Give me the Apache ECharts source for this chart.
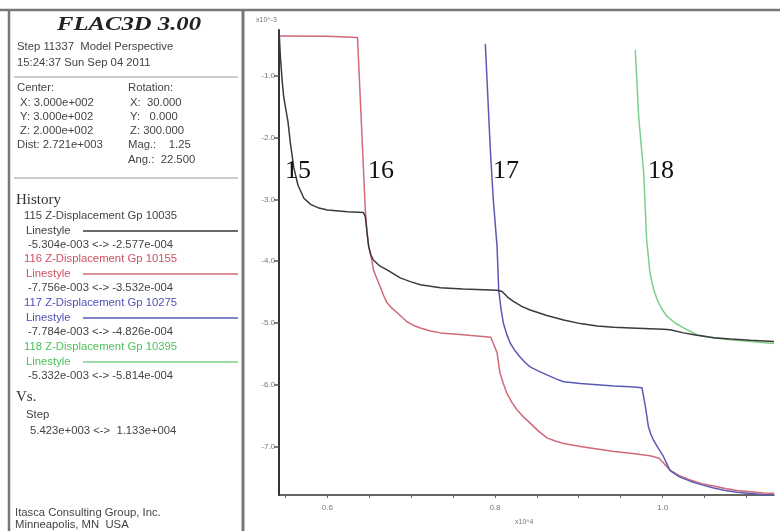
<!DOCTYPE html>
<html><head><meta charset="utf-8">
<script src="https://cdn.jsdelivr.net/npm/echarts@6/dist/echarts.min.js"></script>
<style>html,body{margin:0;padding:0;background:#fff}#c{width:780px;height:531px}</style>
</head><body><div id="c"></div>
<script>
// x in units of 10^4 steps, y in units of 10^-3
const series15 = [[0.5423,-0.2577],[0.5440,-0.70],[0.5462,-1.10],[0.548,-1.35],[0.553,-1.74],[0.556,-2.10],[0.560,-2.49],[0.565,-2.77],[0.572,-2.98],[0.580,-3.08],[0.590,-3.14],[0.600,-3.17],[0.624,-3.20],[0.643,-3.21],[0.6453,-3.28],[0.6474,-3.54],[0.6493,-3.76],[0.652,-3.90],[0.6549,-3.98],[0.662,-4.07],[0.6712,-4.14],[0.687,-4.27],[0.699,-4.33],[0.711,-4.38],[0.735,-4.43],[0.762,-4.45],[0.8025,-4.47],[0.8085,-4.49],[0.815,-4.58],[0.822,-4.65],[0.832,-4.73],[0.842,-4.79],[0.862,-4.88],[0.882,-4.95],[0.902,-5.01],[0.922,-5.05],[0.942,-5.07],[0.962,-5.08],[1.001,-5.10],[1.009,-5.11],[1.025,-5.16],[1.041,-5.20],[1.061,-5.24],[1.081,-5.26],[1.105,-5.28],[1.133,-5.30]];
const series16 = [[0.5423,-0.3532],[0.600,-0.36],[0.636,-0.38],[0.6453,-3.17],[0.6474,-3.54],[0.6493,-3.76],[0.653,-3.98],[0.655,-4.14],[0.659,-4.28],[0.663,-4.41],[0.667,-4.55],[0.671,-4.67],[0.677,-4.76],[0.683,-4.83],[0.695,-4.98],[0.703,-5.04],[0.711,-5.08],[0.723,-5.13],[0.735,-5.16],[0.762,-5.19],[0.795,-5.23],[0.7965,-5.24],[0.8025,-5.48],[0.806,-5.81],[0.810,-5.98],[0.814,-6.13],[0.820,-6.28],[0.826,-6.40],[0.834,-6.52],[0.842,-6.62],[0.852,-6.75],[0.862,-6.86],[0.872,-6.91],[0.882,-6.95],[0.902,-7.00],[0.922,-7.04],[0.942,-7.08],[0.962,-7.11],[0.985,-7.15],[0.996,-7.19],[1.002,-7.28],[1.009,-7.38],[1.020,-7.47],[1.033,-7.54],[1.047,-7.60],[1.061,-7.64],[1.075,-7.68],[1.089,-7.71],[1.105,-7.73],[1.121,-7.75],[1.133,-7.756]];
const series17 = [[0.7885,-0.4826],[0.7945,-2.20],[0.798,-3.00],[0.8025,-3.76],[0.8045,-4.46],[0.807,-4.75],[0.810,-5.00],[0.814,-5.18],[0.818,-5.32],[0.824,-5.45],[0.830,-5.55],[0.836,-5.64],[0.842,-5.71],[0.852,-5.78],[0.862,-5.84],[0.872,-5.90],[0.882,-5.95],[0.902,-5.98],[0.922,-6.00],[0.942,-6.02],[0.962,-6.03],[0.9755,-6.05],[0.9795,-6.35],[0.983,-6.67],[0.986,-6.80],[0.989,-6.89],[0.995,-7.03],[1.001,-7.16],[1.009,-7.39],[1.020,-7.49],[1.033,-7.56],[1.047,-7.62],[1.061,-7.67],[1.075,-7.71],[1.089,-7.74],[1.105,-7.76],[1.121,-7.78],[1.133,-7.784]];
const series18 = [[0.9675,-0.5814],[0.9715,-1.66],[0.9775,-2.57],[0.981,-3.65],[0.985,-4.19],[0.989,-4.44],[0.9935,-4.62],[0.999,-4.77],[1.005,-4.89],[1.015,-5.00],[1.025,-5.08],[1.041,-5.19],[1.061,-5.24],[1.081,-5.27],[1.105,-5.30],[1.133,-5.332]];
const seriesNames = ['115 Z-Displacement Gp 10035','116 Z-Displacement Gp 10155','117 Z-Displacement Gp 10275','118 Z-Displacement Gp 10395'];
const seriesRanges = ['-5.304e-003 <-> -2.577e-004','-7.756e-003 <-> -3.532e-004','-7.784e-003 <-> -4.826e-004','-5.332e-003 <-> -5.814e-004'];
const stageLabels = ['15','16','17','18'];
const xTickValues = [0.55,0.6,0.65,0.7,0.75,0.8,0.85,0.9,0.95,1.0,1.05,1.1];
const xLabelValues = [0.6,0.8,1.0];
const yTickValues = [-7,-6,-5,-4,-3,-2,-1];
const xRange = [0.5423,1.133];
const yRange = [-7.784,-0.2577];

const colors = ['#3a3a3a','#d06a78','#5a5ab4','#7ccf8a'];
const textColors = ['#444','#d05060','#5050b8','#4cc25a'];
const chart = echarts.init(document.getElementById('c'));

const font = '10px "Liberation Sans", Arial, sans-serif';
const g = [];
function txt(x,y,t,opt,sx){ opt=opt||{}; sx=sx||1.13; g.push({type:'text',silent:true,z:10,x:x,y:y,scaleX:sx,style:Object.assign({x:0,y:0,text:t,font:font,fill:'#444',align:'left',verticalAlign:'middle',textAlign:'left',textVerticalAlign:'middle'},opt)}); }
function ln(x1,y1,x2,y2,c,w){ g.push({type:'line',silent:true,z:5,shape:{x1:x1,y1:y1,x2:x2,y2:y2},style:{stroke:c,lineWidth:w}}); }

// frames
ln(0,10,780,10,'#777',2.5);
ln(9,10,9,531,'#777',2.5);
ln(243,10,243,531,'#777',3);
ln(14,77,238,77,'#999',1);
ln(14,178,238,178,'#999',1);

txt(129,25,'FLAC3D 3.00',{font:'italic bold 19px "Liberation Serif", "Times New Roman", serif',fill:'#222',align:'center',textAlign:'center'},1.3);
txt(17,47,'Step 11337  Model Perspective');
txt(17,63,'15:24:37 Sun Sep 04 2011');
txt(17,88,'Center:'); txt(128,88,'Rotation:');
txt(20,103,'X: 3.000e+002'); txt(130,103,'X:  30.000');
txt(20,117,'Y: 3.000e+002'); txt(130,117,'Y:   0.000');
txt(20,131,'Z: 2.000e+002'); txt(130,131,'Z: 300.000');
txt(17,145,'Dist: 2.721e+003'); txt(128,145,'Mag.:    1.25');
txt(128,160,'Ang.:  22.500');
txt(16,200,'History',{font:'15px "Liberation Serif", "Times New Roman", serif',fill:'#333'},1);
const rowY = [216,259,303,347];
for(let i=0;i<4;i++){
  const y=rowY[i];
  txt(24,y,seriesNames[i],{fill:textColors[i]});
  txt(26,y+15,'Linestyle',{fill:textColors[i]});
  ln(83,y+15,238,y+15,colors[i],1.5);
  txt(28,y+29,seriesRanges[i]);
}
txt(16,397,'Vs.',{font:'15px "Liberation Serif", "Times New Roman", serif',fill:'#333'},1);
txt(26,415,'Step');
txt(30,431,'5.423e+003 <->  1.133e+004');
txt(15,513,'Itasca Consulting Group, Inc.');
txt(15,525,'Minneapolis, MN  USA');

// axis multipliers
txt(256,20,'x10^-3',{font:'7px "Liberation Sans", Arial, sans-serif',fill:'#777'},1);
txt(515,522,'x10^4',{font:'7px "Liberation Sans", Arial, sans-serif',fill:'#777'},1);

// stage labels
const stageX=[285,368,493,648];
for(let i=0;i<4;i++) txt(stageX[i],171,stageLabels[i],{font:'26px "Liberation Serif", "Times New Roman", serif',fill:'#111'},1);

chart.setOption({
  animation:false,
  backgroundColor:'#fff',
  grid:{left:279,right:6,top:30,height:465,containLabel:false},
  xAxis:{type:'value',min:xRange[0],max:xRange[1],
    axisLine:{show:true,onZero:false,lineStyle:{color:'#333',width:1.5}},
    splitLine:{show:false},
    axisTick:{show:true,customValues:xTickValues,length:3,lineStyle:{color:'#666',width:1}},
    axisLabel:{customValues:xLabelValues,formatter:v=>v.toFixed(1),color:'#777',fontSize:8,margin:9,fontFamily:'Liberation Sans'}
  },
  yAxis:{type:'value',min:yRange[0],max:yRange[1],
    axisLine:{show:true,onZero:false,lineStyle:{color:'#333',width:2}},
    splitLine:{show:false},
    axisTick:{show:true,customValues:yTickValues,length:5,lineStyle:{color:'#555',width:1.5}},
    axisLabel:{customValues:yTickValues,formatter:v=>v.toFixed(1),color:'#777',fontSize:8,margin:4,fontFamily:'Liberation Sans'}
  },
  graphic:g,
  series:[series15,series16,series17,series18].map((d,i)=>({
    type:'line',name:seriesNames[i],data:d,showSymbol:false,symbol:'none',smooth:false,
    lineStyle:{color:colors[i],width:1.5},z:2+(i===0?3:0)
  }))
});
</script></body></html>
